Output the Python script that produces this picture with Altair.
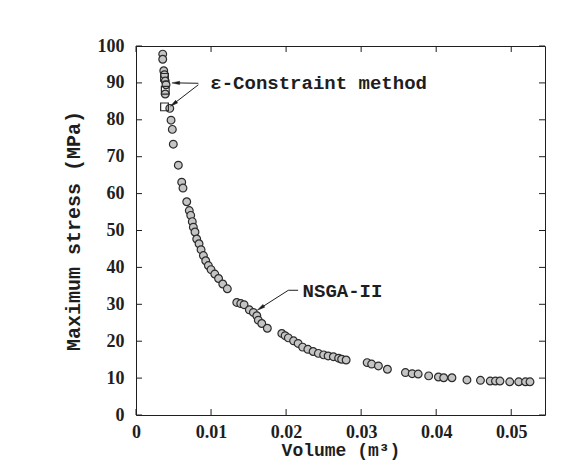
import altair as alt
import pandas as pd

# NSGA-II solutions (volume m^3, max stress MPa)
nsga_x = [0.00356, 0.00356, 0.0037, 0.0038, 0.0039, 0.0040, 0.0039, 0.0045, 0.00467, 0.00484,
          0.00497, 0.00564, 0.00609, 0.00626, 0.00676, 0.0071, 0.00729, 0.0075, 0.00764, 0.00786,
          0.00809, 0.0084, 0.00867, 0.00898, 0.00929, 0.00964, 0.0100, 0.0105, 0.0110, 0.01156,
          0.01217, 0.01343, 0.01396, 0.0144, 0.0151, 0.01564, 0.0161, 0.0163, 0.01676, 0.0175,
          0.01943, 0.01987, 0.0203, 0.0210, 0.0216, 0.0222, 0.0229, 0.0236, 0.0243, 0.0250,
          0.0256, 0.0263, 0.0270, 0.0274, 0.0280, 0.0308, 0.0314, 0.0323, 0.0335, 0.0359,
          0.0368, 0.0376, 0.0390, 0.0403, 0.0410, 0.0421, 0.0441, 0.0459, 0.0472, 0.0479,
          0.0485, 0.0498, 0.0510, 0.0519, 0.0525]
nsga_y = [97.8, 96.4, 93.3, 92.2, 90.5, 89.5, 87.0, 83.1, 79.9, 77.4,
          73.4, 67.7, 63.1, 61.5, 57.8, 55.4, 54.1, 52.4, 50.9, 49.6,
          47.7, 46.4, 44.8, 43.2, 41.8, 40.5, 39.4, 38.2, 37.0, 35.5,
          34.2, 30.5, 30.2, 29.9, 28.5, 27.8, 26.9, 25.7, 24.8, 23.5,
          22.1, 21.5, 20.9, 20.1, 19.4, 18.4, 17.8, 17.2, 16.7, 16.3,
          16.0, 15.8, 15.4, 15.1, 14.9, 14.2, 13.8, 13.3, 12.4, 11.5,
          11.2, 11.1, 10.6, 10.3, 10.1, 10.1, 9.5, 9.4, 9.2, 9.2,
          9.2, 9.0, 9.0, 9.0, 9.0]

# epsilon-constraint solutions
eps_x = [0.0038, 0.0039, 0.0038]
eps_y = [91.5, 88.0, 83.5]

x_ticks = [0, 0.01, 0.02, 0.03, 0.04, 0.05]
y_ticks = [0, 10, 20, 30, 40, 50, 60, 70, 80, 90, 100]

# annotations
label_text = ["\u03b5-Constraint method", "NSGA-II"]
label_x = [0.0099, 0.0222]
label_y = [89.9, 33.5]

arrow_x = [0.00831, 0.00831, 0.0216, 0.0203]
arrow_y = [89.9, 89.5, 33.8, 33.8]
arrow_x2 = [0.0053, 0.0050, 0.0203, 0.0166]
arrow_y2 = [90.0, 84.3, 33.8, 29.0]

head_x = [0.0053, 0.0050, 0.0166]
head_y = [90.0, 84.3, 29.0]
head_angle = [270, 233.5, 236.5]

W, H = 409, 369
XMAX = 0.0545
TL = 6  # inward tick length

nsga = pd.DataFrame({"x": nsga_x, "y": nsga_y})
eps = pd.DataFrame({"x": eps_x, "y": eps_y})
labels = pd.DataFrame({"x": label_x, "y": label_y, "t": label_text})
arrows = pd.DataFrame({"x": arrow_x, "y": arrow_y, "x2": arrow_x2, "y2": arrow_y2})
heads = pd.DataFrame({"x": head_x, "y": head_y, "a": head_angle})
xt = pd.DataFrame({"v": x_ticks})
yt = pd.DataFrame({"v": y_ticks})

xs = alt.Scale(domain=[0, XMAX], nice=False, zero=False)
ys = alt.Scale(domain=[0, 100], nice=False, zero=False)

INK = "#1e1e1e"
num_font = "Liberation Serif"
mono = "Liberation Mono"

main_x_axis = alt.Axis(values=x_ticks, format="~g", ticks=False, tickSize=0, domain=False, grid=False,
                       labelFont=num_font, labelFontSize=18, labelFontWeight="bold", labelColor=INK,
                       labelPadding=8, labelFlush=False, labelOverlap=False,
                       title="Volume (m\u00b3)", titleFont=mono, titleFontSize=18, titleFontWeight="bold",
                       titleColor=INK, titlePadding=0)
main_y_axis = alt.Axis(values=y_ticks, ticks=False, tickSize=0, domain=False, grid=False,
                       labelFont=num_font, labelFontSize=18, labelFontWeight="bold", labelColor=INK,
                       labelPadding=12, labelFlush=False, labelOverlap=False,
                       title="Maximum stress (MPa)", titleFont=mono, titleFontSize=20, titleFontWeight="bold",
                       titleColor=INK, titlePadding=14)

circles = alt.Chart(nsga).mark_point(shape="circle", filled=True, fill="#c4c4c4", stroke="#2b2b2b",
                                     strokeWidth=1.2, size=60, opacity=1).encode(
    x=alt.X("x:Q", scale=xs, axis=main_x_axis),
    y=alt.Y("y:Q", scale=ys, axis=main_y_axis),
)

squares = alt.Chart(eps).mark_point(shape="square", filled=False, stroke="#2b2b2b",
                                    strokeWidth=1.2, size=60, opacity=1).encode(
    x=alt.X("x:Q", scale=xs, axis=None),
    y=alt.Y("y:Q", scale=ys, axis=None),
)

text = alt.Chart(labels).mark_text(align="left", baseline="middle", font=mono, fontSize=19,
                                   fontWeight="bold", color=INK).encode(
    x=alt.X("x:Q", scale=xs, axis=None),
    y=alt.Y("y:Q", scale=ys, axis=None),
    text="t:N",
)

rules = alt.Chart(arrows).mark_rule(color=INK, strokeWidth=1).encode(
    x=alt.X("x:Q", scale=xs, axis=None),
    y=alt.Y("y:Q", scale=ys, axis=None),
    x2="x2:Q",
    y2="y2:Q",
)

arrowheads = alt.Chart(heads).mark_point(shape="M0,-1L0.42,1L-0.42,1Z", filled=True, fill=INK,
                                         stroke=INK, strokeWidth=0.5, size=60, opacity=1).encode(
    x=alt.X("x:Q", scale=xs, axis=None),
    y=alt.Y("y:Q", scale=ys, axis=None),
    angle=alt.Angle("a:Q", scale=None),
)

# inward ticks on all four sides of the frame
tick_bottom = alt.Chart(xt).mark_tick(orient="vertical", size=TL, thickness=1, color=INK, opacity=1,
                                      yOffset=-TL / 2).encode(
    x=alt.X("v:Q", scale=xs, axis=None), y=alt.datum(0, scale=ys, axis=None))
tick_top = alt.Chart(xt).mark_tick(orient="vertical", size=TL, thickness=1, color=INK, opacity=1,
                                   yOffset=TL / 2).encode(
    x=alt.X("v:Q", scale=xs, axis=None), y=alt.datum(100, scale=ys, axis=None))
tick_left = alt.Chart(yt).mark_tick(orient="horizontal", size=TL, thickness=1, color=INK, opacity=1,
                                    xOffset=TL / 2).encode(
    y=alt.Y("v:Q", scale=ys, axis=None), x=alt.datum(0, scale=xs, axis=None))
tick_right = alt.Chart(yt).mark_tick(orient="horizontal", size=TL, thickness=1, color=INK, opacity=1,
                                     xOffset=-TL / 2).encode(
    y=alt.Y("v:Q", scale=ys, axis=None), x=alt.datum(XMAX, scale=xs, axis=None))

chart = alt.layer(circles, squares, text, rules, arrowheads,
                  tick_bottom, tick_top, tick_left, tick_right).resolve_axis(
    x="independent", y="independent"
).properties(
    width=W, height=H, autosize="none",
    padding={"left": 128, "top": 38, "right": 15, "bottom": 50},
    background="white",
).configure_view(stroke=INK, strokeWidth=1)

chart.save("out.html", embed_options={"renderer": "svg", "actions": False})
